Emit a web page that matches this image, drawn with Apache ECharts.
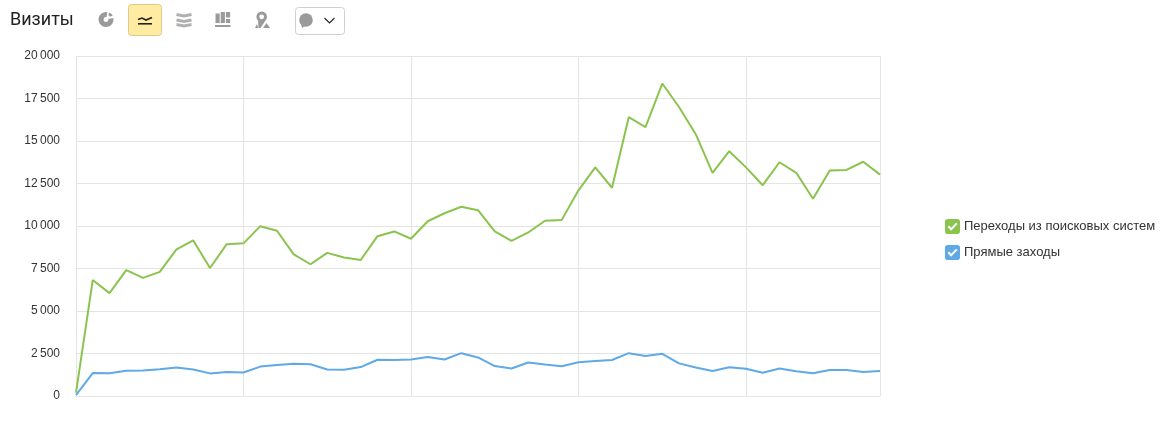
<!DOCTYPE html>
<html lang="ru">
<head>
<meta charset="utf-8">
<style>html,body{margin:0;padding:0;background:#fff}#c{width:1162px;height:430px}</style>
<script src="https://cdn.jsdelivr.net/npm/echarts@6/dist/echarts.min.js"></script>
</head>
<body>
<div id="c"></div>
<script>
const titleText = 'Визиты';
const searchName = 'Переходы из поисковых систем';
const directName = 'Прямые заходы';
const categories = ['0','1','2','3','4','5','6','7','8','9','10','11','12','13','14','15','16','17','18','19','20','21','22','23','24','25','26','27','28','29','30','31','32','33','34','35','36','37','38','39','40','41','42','43','44','45','46','47','48'];
const searchVisits = [200,6820,6050,7400,6950,7300,8620,9150,7530,8930,8980,9990,9720,8330,7750,8420,8150,8000,9400,9680,9250,10280,10750,11130,10930,9680,9130,9620,10310,10360,12100,13450,12250,16400,15820,18380,17000,15400,13130,14400,13450,12400,13750,13130,11600,13270,13300,13780,13020];
const directVisits = [50,1350,1340,1490,1500,1580,1670,1560,1330,1410,1380,1730,1820,1890,1870,1560,1550,1700,2130,2120,2150,2300,2150,2520,2270,1760,1620,1970,1850,1750,1990,2060,2120,2520,2350,2480,1920,1680,1470,1690,1600,1370,1620,1460,1340,1530,1530,1410,1470];

const GREEN = '#8bc34f', BLUE = '#5fa9e6', GRID = '#e4e4e4', GRAY = '#9a9a9a', BAND = '#b0b0b0';
const checkIcon = 'path://M3 0H13Q16 0 16 3V13Q16 16 13 16H3Q0 16 0 13V3Q0 0 3 0ZM2.8 8.4L6.5 12.6L13.4 5.4L11.8 3.9L6.6 9.4L4.4 6.9Z';
const gray = {fill: GRAY};
const band = {stroke: BAND, lineWidth: 3, fill: null};

const chart = echarts.init(document.getElementById('c'), null, {renderer: 'canvas'});
chart.setOption({
  animation: false,
  backgroundColor: '#fff',
  textStyle: {fontFamily: 'Arial, "Liberation Sans", sans-serif'},
  title: {text: titleText, left: 10, top: 11, padding: 0,
    textStyle: {fontSize: 18, fontWeight: 'normal', color: '#222', fontFamily: 'Roboto, Arial, sans-serif'}},
  grid: {left: 76, right: 282, top: 56, height: 340, containLabel: false},
  legend: {
    orient: 'vertical', left: 945, top: 219, padding: 0, itemGap: 11, itemWidth: 15, itemHeight: 15,
    icon: checkIcon, data: [searchName, directName], selectedMode: false,
    textStyle: {fontSize: 13, color: '#333', padding: [1, 0, 0, -1]}
  },
  xAxis: {
    type: 'category', data: categories, boundaryGap: false,
    axisTick: {show: false}, axisLabel: {show: false},
    axisLine: {lineStyle: {color: GRID, width: 1}},
    splitLine: {show: true, lineStyle: {color: GRID, width: 1},
      interval: i => i % 10 === 0 || i === 48}
  },
  yAxis: {
    type: 'value', min: 0, max: 20000, interval: 2500,
    axisLine: {show: false}, axisTick: {show: false},
    axisLabel: {margin: 16, fontSize: 12, color: '#333',
      formatter: v => String(v).replace(/\B(?=(\d{3})+$)/g, '\u2009')},
    splitLine: {lineStyle: {color: GRID, width: 1}}
  },
  series: [
    {name: searchName, type: 'line', data: searchVisits, symbol: 'none', smooth: false,
      color: GREEN, lineStyle: {color: GREEN, width: 2}},
    {name: directName, type: 'line', data: directVisits, symbol: 'none', smooth: false,
      color: BLUE, lineStyle: {color: BLUE, width: 2}}
  ],
  graphic: [
    // pie icon
    {type: 'sector', shape: {cx: 106, cy: 19.5, r: 7.5, r0: 2.4, startAngle: -0.2, endAngle: 4.9}, style: gray},
    {type: 'sector', shape: {cx: 107, cy: 18.5, r: 6.5, r0: 3.4, startAngle: -1.2, endAngle: -0.5}, style: gray},
    // active line button
    {type: 'rect', shape: {x: 128.5, y: 4.5, width: 33, height: 31, r: 3}, style: {fill: '#ffeba1', stroke: '#dcc98d', lineWidth: 1}},
    {type: 'polyline', shape: {points: [[138, 19.5], [142, 18], [146, 20], [152, 17.5]]}, style: {stroke: '#222', lineWidth: 1.6, fill: null}},
    {type: 'rect', shape: {x: 138, y: 23, width: 14, height: 1.6}, style: {fill: '#222'}},
    // stacked area icon
    {type: 'polyline', shape: {points: [[176.5, 14.5], [184, 16], [191.5, 14.5]]}, style: band},
    {type: 'polyline', shape: {points: [[176.5, 20], [184, 21.5], [191.5, 20]]}, style: band},
    {type: 'polyline', shape: {points: [[176.5, 24.5], [184, 26], [191.5, 24.5]]}, style: band},
    // column icon
    {type: 'rect', shape: {x: 215.5, y: 13.5, width: 4.2, height: 9.5}, style: gray},
    {type: 'rect', shape: {x: 220.7, y: 12, width: 4.2, height: 11}, style: gray},
    {type: 'rect', shape: {x: 225.9, y: 12, width: 4.2, height: 5.5}, style: gray},
    {type: 'rect', shape: {x: 225.9, y: 19, width: 4.2, height: 4}, style: gray},
    {type: 'rect', shape: {x: 215, y: 25, width: 15.5, height: 2}, style: gray},
    // map pin icon
    {type: 'ring', shape: {cx: 261.7, cy: 16.8, r: 5.3, r0: 2.4}, style: gray},
    {type: 'polygon', shape: {points: [[258, 20.5], [265.5, 20.5], [260.5, 28], [258.5, 28]]}, style: gray},
    {type: 'polygon', shape: {points: [[255, 28], [257, 24], [258.3, 28]]}, style: gray},
    {type: 'polygon', shape: {points: [[263, 28], [266.5, 23], [270, 28]]}, style: gray},
    // comment dropdown
    {type: 'rect', shape: {x: 295.5, y: 7.5, width: 49, height: 27, r: 3}, style: {fill: '#fff', stroke: '#cfcfcf', lineWidth: 1}},
    {type: 'circle', shape: {cx: 306, cy: 20, r: 6.8}, style: gray},
    {type: 'polygon', shape: {points: [[301, 24], [305, 26], [302, 28]]}, style: gray},
    {type: 'polyline', shape: {points: [[324.5, 18], [329.5, 23], [334.5, 18]]}, style: {stroke: '#222', lineWidth: 1.1, fill: null}}
  ]
});
</script>
</body>
</html>
